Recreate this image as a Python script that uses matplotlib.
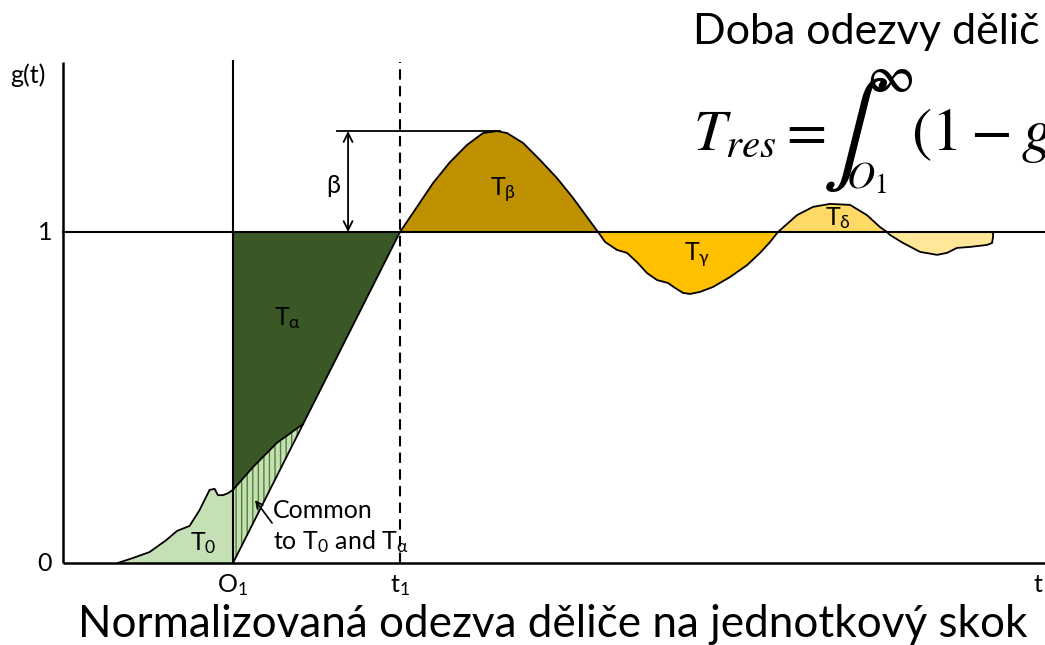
import matplotlib
matplotlib.use('Agg')
import matplotlib.pyplot as plt
import numpy as np

plt.rcParams['font.family'] = ['Lato', 'DejaVu Sans']
plt.rcParams['mathtext.fontset'] = 'custom'
plt.rcParams['mathtext.rm'] = 'Lato'
plt.rcParams['mathtext.it'] = 'Lato:italic'
plt.rcParams['mathtext.fallback'] = 'stixsans'
plt.rcParams['mathtext.default'] = 'regular'
plt.rcParams['hatch.linewidth'] = 1.0

# normalised step response, time scaled so that O1 = 0 and t1 = 1
t0_t = [-0.69, -0.60, -0.50, -0.40, -0.335, -0.26, -0.20, -0.14, -0.11, -0.09, -0.06, -0.03, 0.0]
t0_g = [0.0, 0.015, 0.033, 0.069, 0.097, 0.112, 0.160, 0.221, 0.224, 0.205, 0.205, 0.211, 0.221]

# part of the response that lies above the ramp (common to T0 and Talpha)
common_t = [0.0, 0.12, 0.263, 0.42]
common_g = [0.221, 0.290, 0.363, 0.42]

ramp_t = [0.0, 1.0]
ramp_g = [0.0, 1.0]

beta_t = [1.0, 1.102, 1.198, 1.299, 1.401, 1.497, 1.581, 1.641, 1.737, 1.838, 1.940, 2.036, 2.120, 2.186]
beta_g = [1.0, 1.076, 1.148, 1.211, 1.263, 1.299, 1.305, 1.299, 1.269, 1.218, 1.163, 1.103, 1.045, 1.0]

gamma_t = [2.186, 2.228, 2.299, 2.359, 2.419, 2.479, 2.539, 2.605, 2.647, 2.695, 2.737, 2.796,
           2.874, 2.976, 3.078, 3.156, 3.216, 3.263]
gamma_g = [1.0, 0.970, 0.946, 0.937, 0.909, 0.876, 0.855, 0.846, 0.831, 0.816, 0.813, 0.819,
           0.834, 0.864, 0.900, 0.937, 0.970, 1.0]

delta_t = [3.263, 3.377, 3.473, 3.575, 3.695, 3.796, 3.874, 3.916]
delta_g = [1.0, 1.051, 1.076, 1.085, 1.082, 1.051, 1.015, 1.0]

tail_t = [3.916, 3.934, 4.012, 4.114, 4.216, 4.275, 4.335, 4.413, 4.515, 4.545, 4.551, 4.551]
tail_g = [1.0, 0.991, 0.967, 0.940, 0.931, 0.937, 0.952, 0.955, 0.961, 0.967, 0.985, 1.0]

overshoot = max(beta_g)

c_t0 = '#c5e0b4'
c_hatch = '#548235'
c_alpha = '#3a5726'
c_beta = '#bf9000'
c_gamma = '#ffc000'
c_delta = '#ffd966'
c_tail = '#ffe699'

fig = plt.figure(figsize=(10.45, 6.45), dpi=100)
ax = fig.add_axes([0, 0, 1, 1])
ax.set_xlim(-1.395, 4.862)
ax.set_ylim(-0.2477, 1.701)
ax.axis('off')

# filled areas
ax.fill_between(t0_t, 0, t0_g, facecolor=c_t0, linewidth=0)
ax.fill_between(common_t, np.interp(common_t, ramp_t, ramp_g), common_g,
                facecolor=c_t0, edgecolor=c_hatch, hatch='|||', linewidth=0)
alpha_t = common_t + [1.0]
alpha_lo = common_g + [1.0]
ax.fill_between(alpha_t, alpha_lo, 1.0, facecolor=c_alpha, linewidth=0)
ax.fill_between(beta_t, 1.0, beta_g, facecolor=c_beta, linewidth=0)
ax.fill_between(gamma_t, gamma_g, 1.0, facecolor=c_gamma, linewidth=0)
ax.fill_between(delta_t, 1.0, delta_g, facecolor=c_delta, linewidth=0)
ax.fill_between(tail_t, tail_g, 1.0, facecolor=c_tail, linewidth=0)

# outlines
lw = 1.3
ax.plot(t0_t + common_t[1:], t0_g + common_g[1:], color='black', lw=lw)
ax.plot(ramp_t, ramp_g, color='black', lw=lw)
for xs, ys in [(beta_t, beta_g), (gamma_t, gamma_g), (delta_t, delta_g), (tail_t, tail_g)]:
    ax.plot(xs, ys, color='black', lw=lw)

# axes and reference lines
x_left = -1.018
g_top = 1.514
ax.plot([x_left, 4.862], [0, 0], color='black', lw=1.8, solid_capstyle='butt')
ax.plot([x_left, x_left], [0, g_top], color='black', lw=1.8, solid_capstyle='butt')
ax.plot([x_left, 4.862], [1, 1], color='black', lw=1.5)
ax.plot([0, 0], [0, g_top + 0.005], color='black', lw=1.5, solid_capstyle='butt')
ax.plot([1, 1], [0, g_top], color='black', lw=1.5, linestyle=(0, (5, 3)))
ax.plot([0.623, 1.599], [overshoot, overshoot], color='black', lw=1.3)
ax.annotate('', xy=(0.689, 1.0), xytext=(0.689, overshoot),
            arrowprops=dict(arrowstyle='<->', color='black', lw=1.3,
                            shrinkA=0, shrinkB=0, mutation_scale=16))

fs = 18
ax.text(0.599, 1.142, 'β', fontsize=fs, ha='center', va='center')
ax.text(-1.228, 1.474, 'g(t)', fontsize=fs, ha='center', va='center')
ax.text(-1.126, 1.0, '1', fontsize=fs, ha='center', va='center')
ax.text(-1.126, 0.0, '0', fontsize=fs, ha='center', va='center')
ax.text(0.0, -0.068, 'O$_1$', fontsize=fs, ha='center', va='center')
ax.text(1.0, -0.068, 't$_1$', fontsize=fs, ha='center', va='center')
ax.text(4.82, -0.066, 't', fontsize=fs, ha='center', va='center')

ax.text(0.33, 0.74, 'T$_\\mathrm{α}$', fontsize=fs, ha='center', va='center')
ax.text(1.617, 1.127, 'T$_\\mathrm{β}$', fontsize=fs, ha='center', va='center')
ax.text(2.778, 0.93, 'T$_\\mathrm{γ}$', fontsize=fs, ha='center', va='center')
ax.text(3.623, 1.042, 'T$_\\mathrm{δ}$', fontsize=fs, ha='center', va='center')
ax.text(-0.18, 0.06, 'T$_0$', fontsize=fs, ha='center', va='center')
ax.text(0.24, 0.11, 'Common\nto T$_0$ and T$_\\mathrm{α}$', fontsize=fs,
        ha='left', va='center', linespacing=1.3)
ax.annotate('', xy=(0.132, 0.19), xytext=(0.234, 0.121),
            arrowprops=dict(arrowstyle='->', color='black', lw=1.2,
                            shrinkA=0, shrinkB=0, mutation_scale=12))

# caption and response-time formula
fig.text(0.529, 1 - 637 / 645, 'Normalizovaná odezva děliče na jednotkový skok',
         fontsize=31.7, ha='center', va='baseline')
fig.text(693 / 1045, 1 - 44 / 645, 'Doba odezvy dělič', fontsize=31,
         ha='left', va='baseline')
stix = dict(math_fontfamily='stix', family='STIXGeneral')
fig.text(693 / 1045, 1 - 150 / 645, '$\\mathit{T}_{\\mathit{res}}=$', fontsize=42,
         ha='left', va='baseline', **stix)
fig.text(822 / 1045, 1 - 160 / 645, '$\\int$', fontsize=72,
         ha='left', va='baseline', **stix)
fig.text(890 / 1045, 1 - 79 / 645, '$\\infty$', fontsize=38,
         ha='center', va='center', **stix)
fig.text(866 / 1045, 1 - 179 / 645, '$\\mathit{O}_1$', fontsize=28,
         ha='center', va='center', **stix)
fig.text(911 / 1045, 1 - 150 / 645, '$(1-\\mathit{g}(\\mathit{t}))\\,\\mathit{dt}$',
         fontsize=44, ha='left', va='baseline', **stix)

fig.savefig('out.png', dpi=100)
